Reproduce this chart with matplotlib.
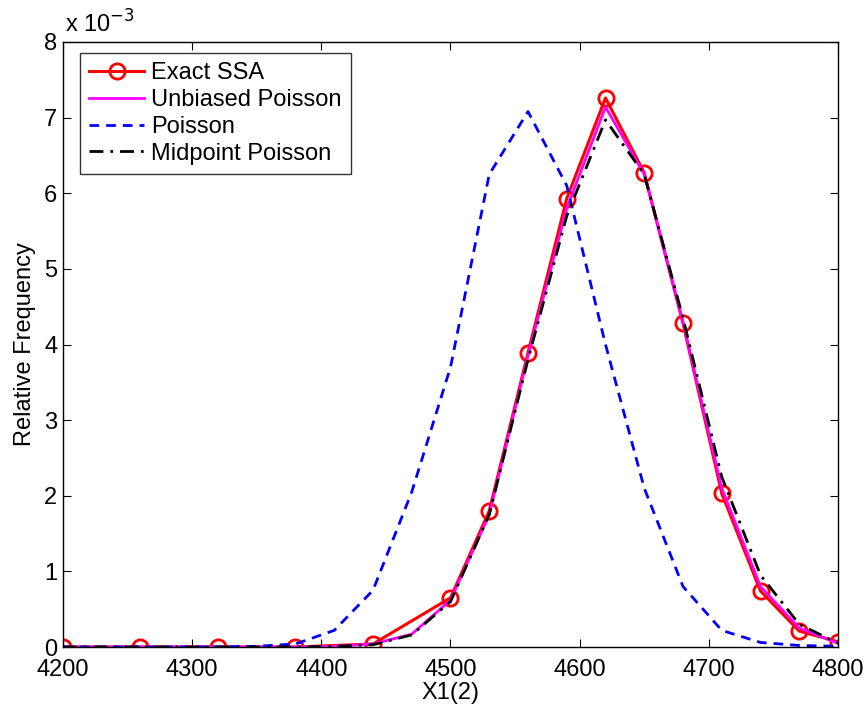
import matplotlib
matplotlib.use("Agg")
import matplotlib.pyplot as plt
from matplotlib.ticker import FuncFormatter

plt.rcParams['font.family'] = ['Liberation Sans', 'DejaVu Sans']

# Exact SSA (values in units of 1e-3)
ssa_x = [4200, 4260, 4320, 4380, 4440, 4500, 4530, 4560, 4590, 4620, 4650, 4680, 4710, 4740, 4770, 4800]
ssa_y = [0.0, 0.0, 0.0, 0.0, 0.04, 0.65, 1.80, 3.89, 5.93, 7.26, 6.27, 4.28, 2.03, 0.74, 0.21, 0.07]

grid_x = [4200, 4230, 4260, 4290, 4320, 4350, 4380, 4410, 4440, 4470, 4500,
          4530, 4560, 4590, 4620, 4650, 4680, 4710, 4740, 4770, 4800]
unbiased_y = [0.0, 0.0, 0.0, 0.0, 0.0, 0.0, 0.0, 0.01, 0.04, 0.17, 0.62,
              1.75, 3.85, 5.80, 7.14, 6.25, 4.30, 2.10, 0.80, 0.25, 0.05]
poisson_y = [0.0, 0.0, 0.0, 0.0, 0.0, 0.01, 0.04, 0.22, 0.75, 2.05, 3.70,
             6.25, 7.08, 6.10, 4.00, 2.10, 0.80, 0.22, 0.06, 0.02, 0.01]
midpoint_y = [0.0, 0.0, 0.0, 0.0, 0.0, 0.0, 0.0, 0.01, 0.03, 0.16, 0.60,
              1.75, 3.80, 5.70, 6.97, 6.25, 4.35, 2.25, 0.95, 0.30, 0.05]

scale = 1e-3
FS = 17

fig = plt.figure(figsize=(8.68, 7.09), dpi=100)
# axes: left 63px, right 838px, top 42px, bottom 647px
ax = fig.add_axes([63 / 868, (709 - 647) / 709, 775 / 868, 605 / 709])

ax.plot(ssa_x, [v * scale for v in ssa_y], color='red', lw=2.2, marker='o',
        markersize=11, markerfacecolor='none', markeredgewidth=2, label='Exact SSA')
ax.plot(grid_x, [v * scale for v in unbiased_y], color='magenta', lw=2.0, label='Unbiased Poisson')
ax.plot(grid_x, [v * scale for v in poisson_y], color='blue', lw=2.0, ls=(0, (3.5, 2.5)), label='Poisson')
ax.plot(grid_x, [v * scale for v in midpoint_y], color='black', lw=2.0, ls=(0, (5, 2.5, 1, 2.5)), label='Midpoint Poisson')

ax.set_xlim(4200, 4800)
ax.set_ylim(0, 8e-3)
ax.set_xticks(range(4200, 4801, 100))
ax.set_yticks([i * scale for i in range(0, 9)])
ax.yaxis.set_major_formatter(FuncFormatter(lambda v, p: f"{v / scale:.0f}"))

ax.tick_params(direction='in', top=True, right=True, labelsize=FS, length=6, width=0.8)
ax.tick_params(axis='x', pad=9)
ax.tick_params(axis='y', pad=4)
for s in ax.spines.values():
    s.set_linewidth(1.0)

ax.set_xlabel('X1(2)', fontsize=FS, labelpad=0)
ax.set_ylabel('Relative Frequency', fontsize=FS, labelpad=6)
ax.text(0.003, 1.008, r'x 10$^{-3}$', transform=ax.transAxes, fontsize=FS,
        ha='left', va='bottom')

leg = ax.legend(loc='upper left', bbox_to_anchor=(17 / 775, 1 - 11 / 605),
                borderaxespad=0, fontsize=FS, frameon=True, fancybox=False,
                edgecolor='black', borderpad=0.4, labelspacing=0.2,
                handlelength=2.3, handletextpad=0.3)
leg.get_frame().set_linewidth(1.0)

fig.savefig('out.png', dpi=100)
